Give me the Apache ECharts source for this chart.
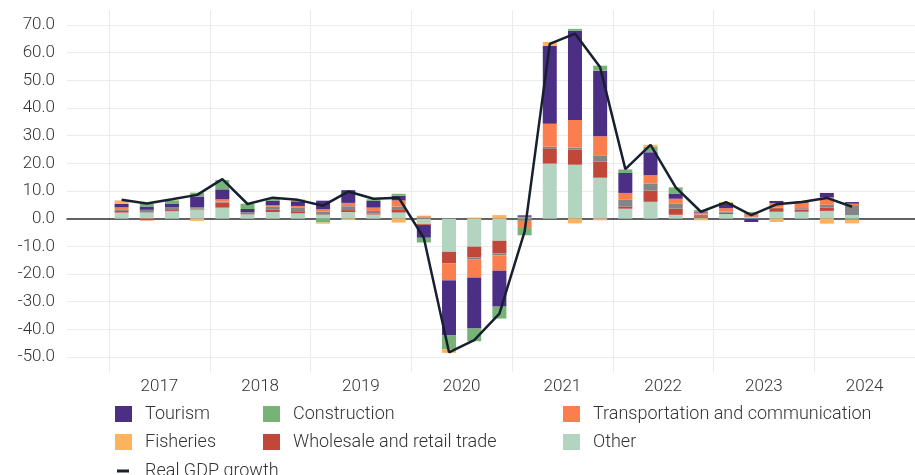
<!DOCTYPE html>
<html>
<head>
<meta charset="utf-8">
<script src="https://cdn.jsdelivr.net/npm/echarts@6/dist/echarts.min.js"></script>
<style>
  html, body { margin: 0; padding: 0; background: #fff; }
  #chart { width: 915px; height: 475px; }
</style>
</head>
<body>
<div id="chart"></div>
<script>
// quarterly contributions to real GDP growth (percentage points)
const quarters = [
  '2017Q1', '2017Q2', '2017Q3', '2017Q4', '2018Q1', '2018Q2', '2018Q3', '2018Q4',
  '2019Q1', '2019Q2', '2019Q3', '2019Q4', '2020Q1', '2020Q2', '2020Q3', '2020Q4',
  '2021Q1', '2021Q2', '2021Q3', '2021Q4', '2022Q1', '2022Q2', '2022Q3', '2022Q4',
  '2023Q1', '2023Q2', '2023Q3', '2023Q4', '2024Q1', '2024Q2'
];
const years = ['2017', '2018', '2019', '2020', '2021', '2022', '2023', '2024'];
const yTicks = [-50, -40, -30, -20, -10, 0, 10, 20, 30, 40, 50, 60, 70];

const other = [2.2, 2.2, 2.7, 3.3, 4.0, 1.5, 2.4, 1.9, 1.3, 2.4, 1.5, 2.2, -2.0, -12.0, -10.1, -8.0,
  0.4, 19.9, 19.5, 14.8, 3.6, 6.1, 1.4, 0.3, 1.7, 0.7, 2.5, 2.5, 2.8, 1.3];
const wholesale = [0.6, -0.5, 0.4, 0.3, 1.8, 0.1, 0.8, 0.8, 0.2, 0.7, 0.4, 1.2, -0.3, -4.2, -3.9, -4.5,
  0.3, 5.3, 5.4, 5.8, 0.7, 4.0, 2.2, 0.6, 0.5, 0.2, 1.3, 0.8, 1.2, 0];
const grey = [0.6, 1.0, 1.1, 0.5, 0.4, 0.7, 1.1, 1.2, 1.1, 1.4, 0.9, 1.0, 0.3, 0, -0.8, -0.8,
  -0.8, 0.8, 0.8, 2.1, 2.5, 2.6, 1.8, 0.6, 0.3, 0, 0.2, 0.5, 1.0, 3.6];
const transport = [0.7, -0.2, 0, 0, 0.8, 0, 0.5, 0.7, 0.8, 1.2, 1.2, 2.2, 0.6, -6.1, -6.5, -5.5,
  -2.6, 8.3, 10.0, 7.1, 2.5, 3.0, 1.8, 0.7, 1.3, 0.8, 1.6, 1.9, 2.7, 0.5];
const tourism = [1.3, 1.2, 1.1, 3.9, 3.6, 1.2, 1.7, 1.7, 3.1, 4.6, 2.4, 1.7, -4.6, -19.9, -18.4, -13.0,
  0.5, 28.2, 32.2, 23.7, 7.2, 8.3, 1.9, 0.3, 1.9, -1.2, 0.8, 0.3, 1.6, 0.6];
const construction = [0, 1.1, 1.3, 1.4, 3.4, 1.9, 0.7, 0, -1.4, 0, 0.6, 0.7, -1.7, -5.1, -4.6, -4.3,
  -2.6, 0, 0.7, 1.8, 1.1, 2.0, 2.2, 0.6, 0, 0.7, 0, 0, 0, -0.3];
const fisheries = [1.2, 0, 0.2, -0.8, 0, 0, 0, 0.7, -0.4, -0.5, 0, -1.4, 0.2, -1.2, 0.4, 1.3,
  0, 1.4, -1.7, -0.6, 0.3, 0.7, 0, -0.6, 0.3, 0, -1.2, 0.4, -1.8, -1.4];
const gdp = [6.8, 5.5, 7.0, 8.6, 14.3, 5.3, 7.6, 6.8, 4.7, 9.8, 7.2, 7.6, -7.0, -48.3, -43.9, -34.3,
  -4.7, 63.2, 66.9, 54.7, 17.9, 26.7, 11.3, 2.5, 6.0, 1.3, 5.2, 6.0, 7.5, 4.3];

const FONT = 'Roboto, sans-serif';
const TEXT = '#333';
const GRID = '#ebebeb';

const chart = echarts.init(document.getElementById('chart'));

function bar(name, color, values) {
  return {
    name: name,
    type: 'bar',
    stack: 'total',
    xAxisIndex: 2,
    yAxisIndex: 2,
    barWidth: 14,
    itemStyle: { color: color },
    data: values
  };
}

function legendCol(left, top, names) {
  return {
    orient: 'vertical',
    left: left,
    top: top,
    itemWidth: 17,
    itemHeight: 16,
    itemGap: 10,
    icon: 'rect',
    textStyle: { fontFamily: FONT, fontSize: 18, fontWeight: 300, color: TEXT, padding: [0, 0, 0, 8] },
    data: names
  };
}

const yRange = { min: yTicks[0], max: yTicks[yTicks.length - 1] };

const option = {
  animation: false,
  legend: [
    legendCol(110, 400, ['Tourism', 'Fisheries']),
    legendCol(258, 400, ['Construction', 'Wholesale and retail trade']),
    legendCol(558, 400, ['Transportation and communication', 'Other']),
    {
      left: 112,
      top: 457,
      itemWidth: 12,
      itemHeight: 3,
      icon: 'rect',
      textStyle: { fontFamily: FONT, fontSize: 18, fontWeight: 300, color: TEXT, padding: [0, 0, 0, 11] },
      data: ['Real GDP growth']
    }
  ],
  grid: [
    // 0: y axis, horizontal grid lines and zero line
    { left: 67, right: 0, top: 25, height: 332 },
    // 1: year labels and year separators
    { left: 109, width: 812.6, top: 10, height: 362 },
    // 2: quarterly bars and line (32 slots, last two empty)
    { left: 109, width: 812.6, top: 25, height: 332 }
  ],
  xAxis: [
    {
      type: 'value',
      gridIndex: 0,
      min: 0,
      max: 1,
      axisLabel: { show: false },
      axisTick: { show: false },
      splitLine: { show: false },
      axisLine: { show: true, onZero: true, lineStyle: { color: '#333', width: 1.5 } }
    },
    {
      type: 'category',
      gridIndex: 1,
      data: years,
      axisLine: { show: false },
      axisTick: { show: false },
      axisLabel: { interval: 0, margin: 6, fontFamily: FONT, fontSize: 17, fontWeight: 300, color: TEXT },
      splitLine: { show: true, interval: 0, lineStyle: { color: GRID, width: 1 } }
    },
    {
      type: 'category',
      gridIndex: 2,
      data: quarters,
      max: 31,
      show: false
    }
  ],
  yAxis: [
    {
      type: 'value',
      gridIndex: 0,
      min: yRange.min,
      max: yRange.max,
      interval: 10,
      axisLine: { show: false },
      axisTick: { show: false },
      axisLabel: {
        margin: 12,
        fontFamily: FONT,
        fontSize: 17,
        fontWeight: 300,
        color: TEXT,
        formatter: v => v.toFixed(1)
      },
      splitLine: { lineStyle: { color: GRID, width: 1 } }
    },
    { type: 'value', gridIndex: 1, show: false, min: 0, max: 1 },
    { type: 'value', gridIndex: 2, show: false, min: yRange.min, max: yRange.max }
  ],
  series: [
    bar('Other', '#b2d4c1', other),
    bar('Wholesale and retail trade', '#c1473a', wholesale),
    bar('Unlabelled', '#858585', grey),
    bar('Transportation and communication', '#fb7e4e', transport),
    bar('Tourism', '#4a2f85', tourism),
    bar('Construction', '#77b277', construction),
    bar('Fisheries', '#fdb25b', fisheries),
    {
      name: 'Real GDP growth',
      type: 'line',
      xAxisIndex: 2,
      yAxisIndex: 2,
      symbol: 'none',
      z: 5,
      lineStyle: { color: '#17202e', width: 2.5 },
      itemStyle: { color: '#17202e' },
      data: gdp
    }
  ]
};

chart.setOption(option);
</script>
</body>
</html>
